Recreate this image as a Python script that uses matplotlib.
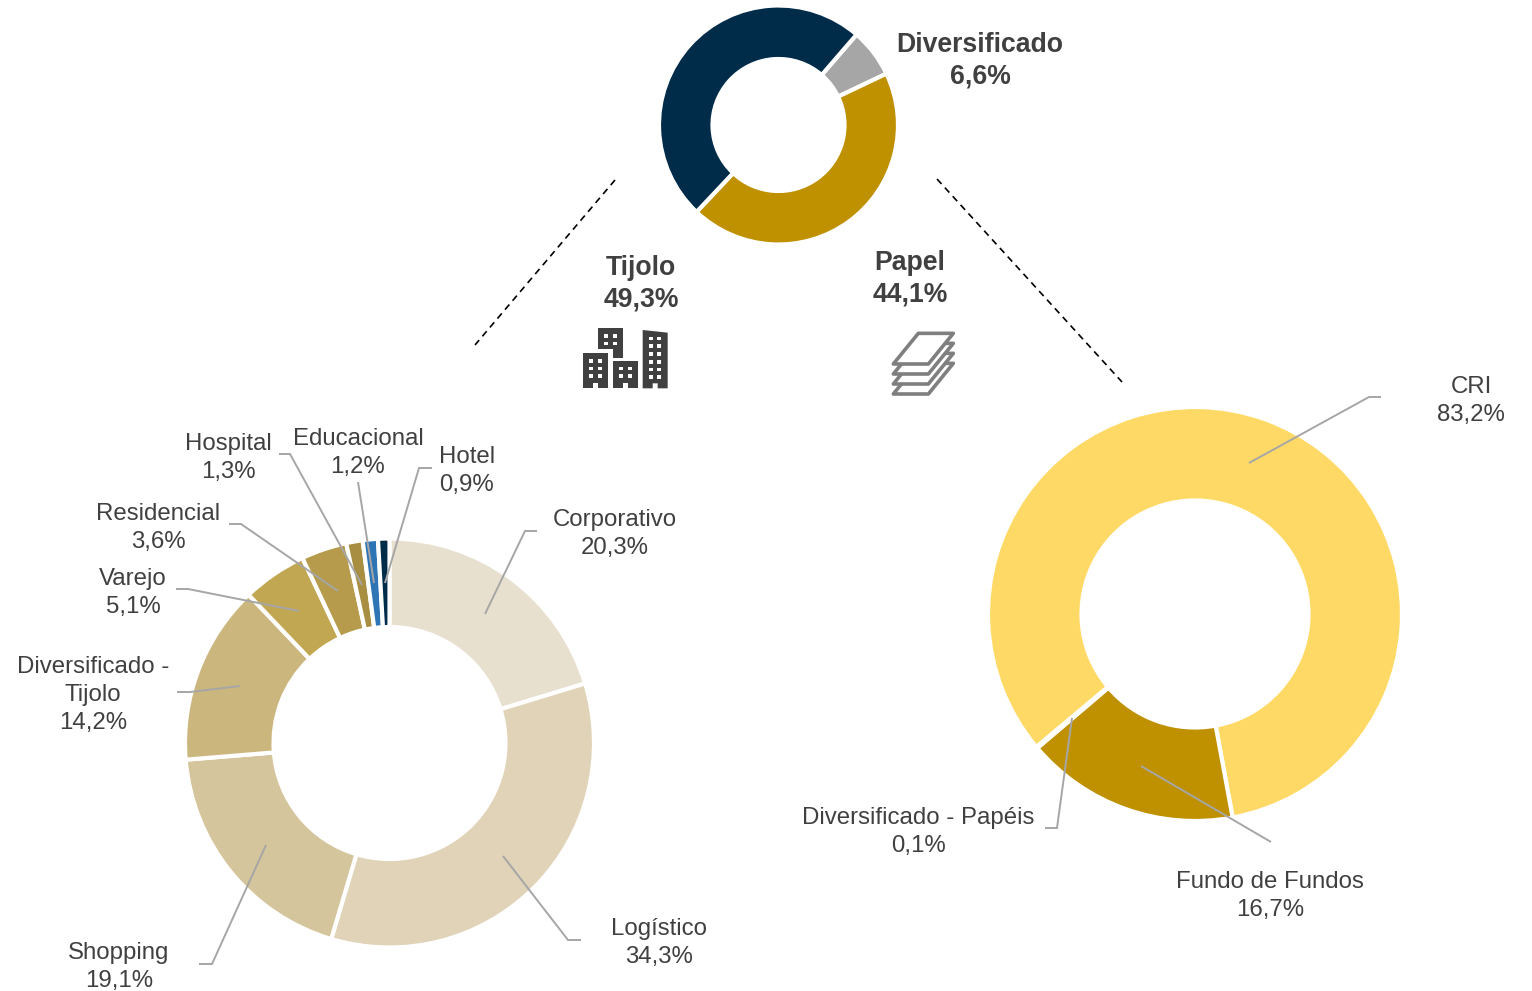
import matplotlib
matplotlib.use("Agg")
import matplotlib.pyplot as plt
from matplotlib.patches import Polygon, Rectangle

# ---------- data ----------
top_labels = ["Diversificado", "Papel", "Tijolo"]
top_values = [6.6, 44.1, 49.3]

left_labels = ["Corporativo", "Logístico", "Shopping", "Diversificado -\nTijolo", "Varejo",
               "Residencial", "Hospital", "Educacional", "Hotel"]
left_values = [20.3, 34.3, 19.1, 14.2, 5.1, 3.6, 1.3, 1.2, 0.9]

right_labels = ["CRI", "Fundo de Fundos", "Diversificado - Papéis"]
right_values = [83.2, 16.7, 0.1]

# ---------- style ----------
top_colors = ["#A6A6A6", "#BF9000", "#002B49"]
left_colors = ["#E8E0CF", "#E0D3B8", "#D5C59C", "#CBB67E", "#C2A752", "#B59B4B", "#A88E41", "#2E75B6", "#002B49"]
right_colors = ["#FFD966", "#BF9000", "#BF9000"]
TEXT = "#404040"
LEAD = "#A6A6A6"
W, H = 1532, 991

plt.rcParams["font.family"] = ["Liberation Sans", "DejaVu Sans"]
fig = plt.figure(figsize=(W / 100, H / 100), dpi=100, facecolor="white")


def donut(values, colors, cx, cy, r_out, r_in, start):
    ax = fig.add_axes([(cx - r_out) / W, 1 - (cy + r_out) / H, 2 * r_out / W, 2 * r_out / H])
    ax.pie(values, colors=colors, startangle=start, counterclock=False, radius=1,
           wedgeprops=dict(width=1 - r_in / r_out, edgecolor="white", linewidth=3))
    ax.set_xlim(-1, 1)
    ax.set_ylim(-1, 1)
    ax.set_axis_off()


donut(top_values, top_colors, 778.5, 125, 119.5, 66, 49.2)
donut(left_values, left_colors, 389.5, 743, 204.5, 116, 90)
donut(right_values, right_colors, 1195, 614, 207, 113.5, -140)

# overlay in pixel units for annotations
ov = fig.add_axes([0, 0, 1, 1], zorder=10)
ov.set_xlim(0, W)
ov.set_ylim(H, 0)
ov.set_axis_off()
ov.patch.set_alpha(0)

# leader lines
leaders = [
    [(485, 614), (525, 531), (537, 531)],
    [(503, 856), (568, 940), (581, 940)],
    [(266, 845), (212, 964), (199, 964)],
    [(240, 686), (190, 692), (177, 692)],
    [(299, 611), (188, 589), (176, 589)],
    [(338, 591), (241, 524), (229, 524)],
    [(362, 585), (290, 454), (279, 454)],
    [(374, 583), (358, 482)],
    [(385, 583), (419, 468), (432, 468)],
    [(1249, 463), (1369, 397), (1381, 397)],
    [(1141, 766), (1271, 842)],
    [(1072, 718), (1057, 828), (1045, 828)],
]
for pts in leaders:
    ov.plot(*zip(*pts), color=LEAD, lw=1.4, solid_joinstyle="miter", solid_capstyle="butt")

# dashed connectors
for pts in ([(615, 180), (475, 345)], [(937, 179), (1122, 382)]):
    ov.plot(*zip(*pts), color="black", lw=1.2, dashes=(4, 3))

# labels
left_pos = [(615, 534), (659, 943), (119, 967), (93, 695), (133, 593), (158, 528),
            (228, 458), (358, 453), (467, 471)]
for name, val, (x, y) in zip(left_labels, left_values, left_pos):
    ov.text(x, y, f"{name}\n{val:.1f}%".replace(".", ","), ha="center", va="center",
            fontsize=17.3, color=TEXT, linespacing=1.37)

right_pos = [(1471, 401), (1270, 896), (918, 832)]
for name, val, (x, y) in zip(right_labels, right_values, right_pos):
    ov.text(x, y, f"{name}\n{val:.1f}%".replace(".", ","), ha="center", va="center",
            fontsize=17.3, color=TEXT, linespacing=1.37)

top_pos = [(980, 61), (910, 279), (641, 284)]
for name, val, (x, y) in zip(top_labels, top_values, top_pos):
    ov.text(x, y, f"{name}\n{val:.1f}%".replace(".", ","), ha="center", va="center",
            fontsize=19.2, fontweight="bold", color=TEXT, linespacing=1.29)


# building icon (coords in 3x zoom units relative to the icon origin)
def zx(v):
    return 570 + v / 3


def zy(v):
    return 315 + v / 3


ICON = "#404040"
blocks = [
    ([(85, 40), (160, 40), (160, 128), (130, 128), (130, 103), (85, 103)], [103, 130], [57, 80]),
    ([(40, 115), (115, 115), (115, 220), (85, 220), (85, 205), (70, 205), (70, 220), (40, 220)],
     [58, 85], [133, 155, 178]),
    ([(130, 138), (205, 138), (205, 220), (175, 220), (175, 205), (160, 205), (160, 220), (130, 220)],
     [148, 175], [155, 178]),
    ([(218, 45), (293, 53), (293, 220), (263, 220), (263, 205), (248, 205), (248, 220), (218, 220)],
     [236, 262], [65, 88, 112, 135, 158, 180]),
]
for poly, xs, ys in blocks:
    ov.add_patch(Polygon([(zx(a), zy(b)) for a, b in poly], closed=True, fc=ICON, ec="none"))
    for a in xs:
        for b in ys:
            ov.add_patch(Rectangle((zx(a), zy(b)), 12 / 3, 11 / 3, fc="white", ec="none"))

# paper stack icon
sheet = [(1045, 55), (1150, 55), (1075, 147), (970, 147)]
for off in (90, 60, 30, 0):
    ov.add_patch(Polygon([(zx(a), zy(b + off)) for a, b in sheet], closed=True,
                         fc="white", ec="#7F7F7F", lw=2.6, joinstyle="round"))

fig.savefig("out.png", dpi=100, facecolor="white")
